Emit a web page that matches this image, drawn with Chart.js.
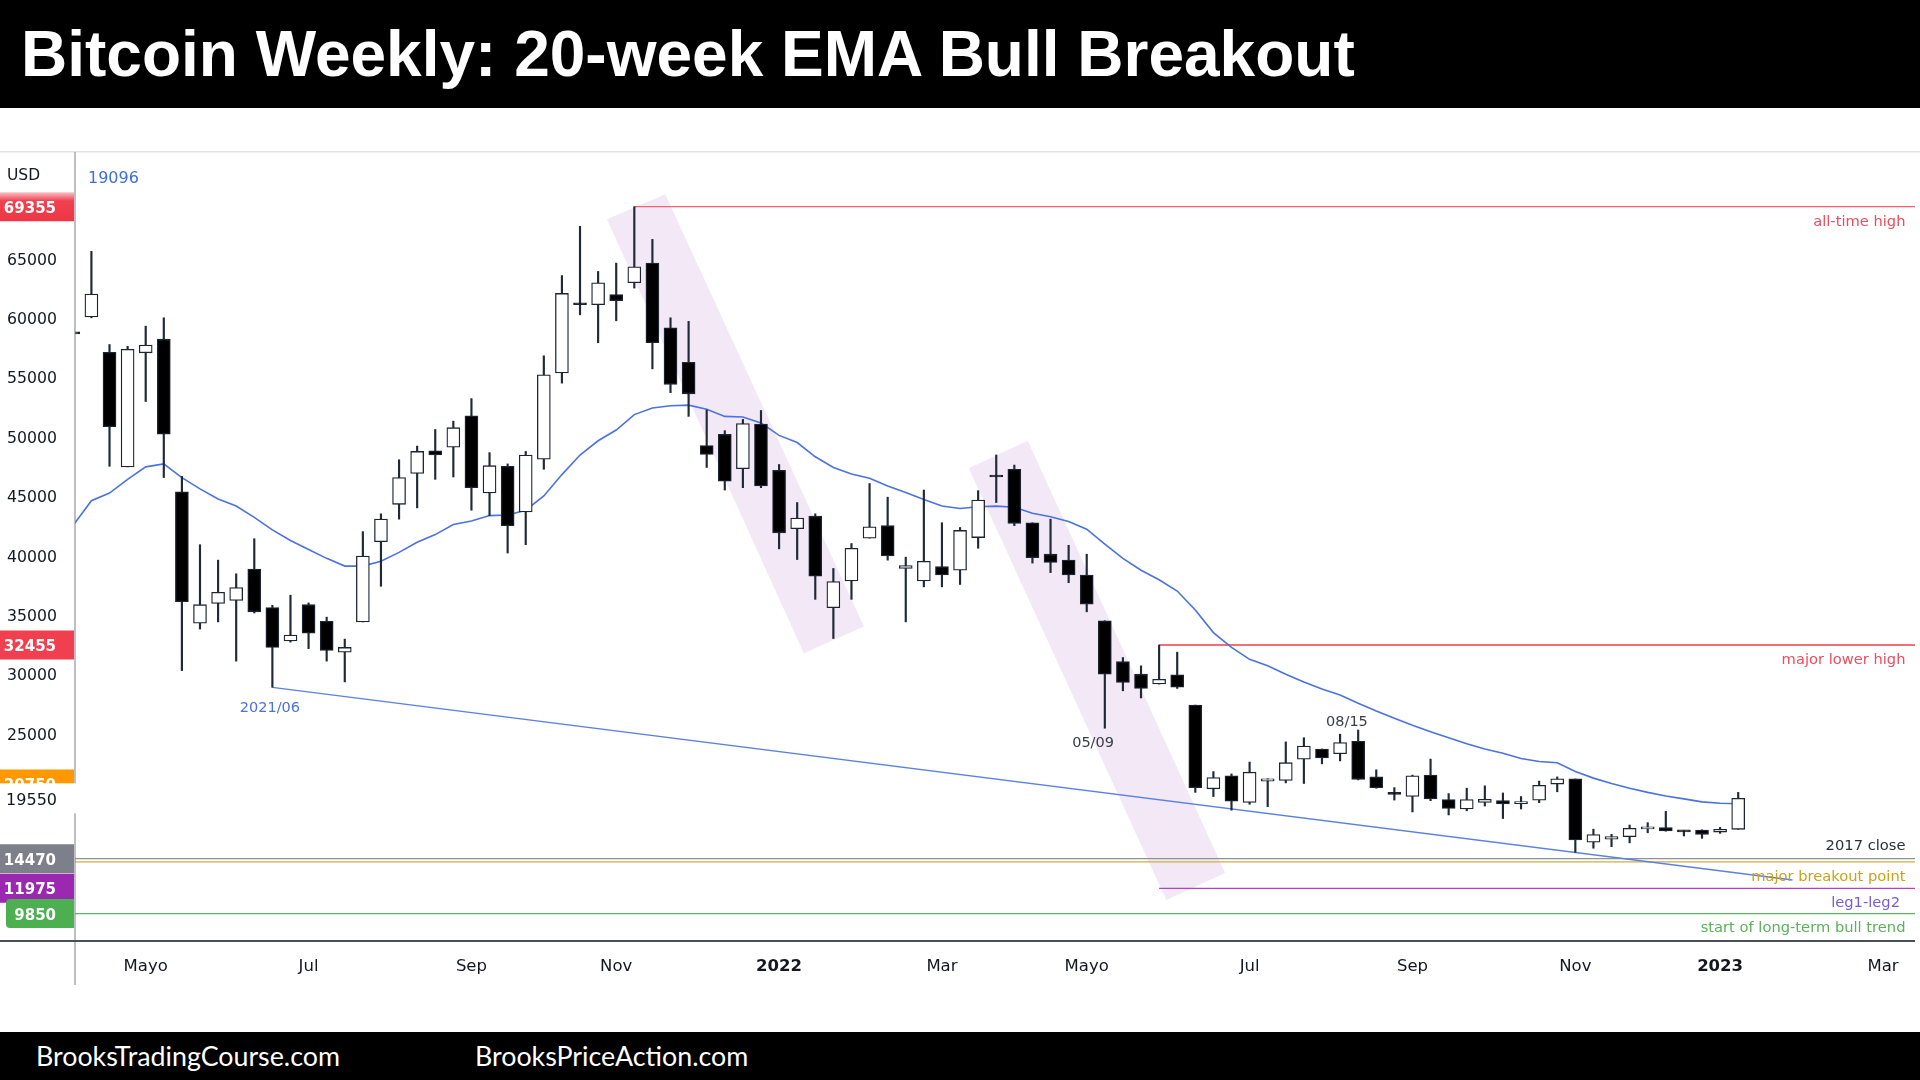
<!DOCTYPE html>
<html><head><meta charset="utf-8">
<script src="https://cdn.jsdelivr.net/npm/chart.js@4.4.1/dist/chart.umd.min.js"></script>
<style>
html,body{margin:0;padding:0;background:#fff;width:1920px;height:1080px;overflow:hidden;}
#wrap{position:relative;width:1920px;height:1080px;}
#c{position:absolute;left:0;top:0;}
#hdr{position:absolute;left:0;top:0;width:1920px;height:108px;background:#000;}
#title{position:absolute;left:21px;top:22px;font:bold 64px/64px "Liberation Sans",Arial,sans-serif;color:#fff;white-space:nowrap;}
#ftr{position:absolute;left:0;top:1032px;width:1920px;height:48px;background:#000;}
.ft{position:absolute;top:11px;font:26.8px/26.8px Lato,"Open Sans",sans-serif;color:#fff;white-space:nowrap;}
</style></head><body>
<div id="wrap">
<canvas id="c" width="1920" height="1080" style="width:1920px;height:1080px"></canvas>
<div id="hdr"><div id="title">Bitcoin Weekly: 20-week EMA Bull Breakout</div></div>
<div id="ftr"><span class="ft" style="left:36px">BrooksTradingCourse.com</span><span class="ft" style="left:475px">BrooksPriceAction.com</span></div>
</div>
<script>
// ---- weekly candles (week start dates) ----
const weeks = [
'2021-04-05','2021-04-12','2021-04-19','2021-04-26','2021-05-03','2021-05-10','2021-05-17','2021-05-24','2021-05-31','2021-06-07',
'2021-06-14','2021-06-21','2021-06-28','2021-07-05','2021-07-12','2021-07-19','2021-07-26','2021-08-02','2021-08-09','2021-08-16',
'2021-08-23','2021-08-30','2021-09-06','2021-09-13','2021-09-20','2021-09-27','2021-10-04','2021-10-11','2021-10-18','2021-10-25',
'2021-11-01','2021-11-08','2021-11-15','2021-11-22','2021-11-29','2021-12-06','2021-12-13','2021-12-20','2021-12-27','2022-01-03',
'2022-01-10','2022-01-17','2022-01-24','2022-01-31','2022-02-07','2022-02-14','2022-02-21','2022-02-28','2022-03-07','2022-03-14',
'2022-03-21','2022-03-28','2022-04-04','2022-04-11','2022-04-18','2022-04-25','2022-05-02','2022-05-09','2022-05-16','2022-05-23',
'2022-05-30','2022-06-06','2022-06-13','2022-06-20','2022-06-27','2022-07-04','2022-07-11','2022-07-18','2022-07-25','2022-08-01',
'2022-08-08','2022-08-15','2022-08-22','2022-08-29','2022-09-05','2022-09-12','2022-09-19','2022-09-26','2022-10-03','2022-10-10',
'2022-10-17','2022-10-24','2022-10-31','2022-11-07','2022-11-14','2022-11-21','2022-11-28','2022-12-05','2022-12-12','2022-12-19',
'2022-12-26','2023-01-02','2023-01-09'];
const openP = [58750,60070,57100,47450,57050,58200,45350,34300,35950,36200,
38850,35600,32800,35850,34450,31850,34400,41150,44300,46900,
48800,49100,51750,45250,47500,43650,48100,55350,61200,61100,
61950,62950,64600,59150,56250,49250,50200,47300,51050,47150,
42250,43300,35600,37850,41450,42500,38900,37850,39050,38750,
41500,46750,47250,42750,40100,39600,38350,34500,31050,30000,
29170,29950,27400,20350,21450,19200,21000,21050,22850,23700,
23300,24350,21350,19950,19700,21500,19450,18650,19200,19350,
19100,19400,20750,21180,15850,16120,16320,16980,17080,16760,
16880,16710,16940];
const highP = [58800,65600,57750,57600,59300,60000,46650,40900,39600,38450,
41400,35800,36650,36000,34800,32950,42000,43500,48050,49200,
50600,51300,53200,48650,47700,48750,56800,63550,67700,63900,
64600,69355,66600,60000,59700,52250,50500,51450,52200,47650,
44450,43500,38900,41000,46050,44900,39850,45500,42750,42350,
45450,48450,47600,42750,43050,40850,40100,34500,31400,30700,
32455,31850,27400,21800,21600,22600,21200,24300,24650,23700,
24950,25300,21950,20450,21500,22850,19950,20400,20600,20000,
19700,21000,21350,21180,16950,16520,17300,17500,18450,16820,
16900,17100,20050];
const lowP = [58600,60000,47500,47450,52950,46550,30300,33800,34400,31100,
35150,28900,32700,32150,31100,29350,34400,37400,43050,44000,
46400,46600,43800,43350,40200,40900,47250,54500,60250,57900,
59750,62500,55700,53700,51700,47400,45500,45700,45700,40550,
39650,36300,33000,36300,41450,39600,34400,37350,37350,37550,
40600,44450,42500,39350,38550,37700,35250,25450,28600,28000,
29170,28800,20050,19700,18550,19050,18850,20850,20800,22450,
22700,21100,20400,19400,18400,19350,18150,18500,18900,17850,
18650,19180,20100,15000,15350,15480,15800,16650,16780,16380,
16180,16600,16940];
const closeP = [58650,62000,50830,57350,57700,50200,36100,35850,36900,37300,
35250,32250,33300,33450,32000,32250,39950,43050,46550,48750,
48450,50750,45700,47550,42500,48450,55200,62050,61100,62950,
61450,64300,57900,54400,53600,48500,46250,51100,45850,41900,
43150,38250,37800,40600,42400,39950,39150,39500,38350,42100,
44650,46600,42700,39800,39400,38350,35900,30000,29300,28800,
29570,28900,20450,21300,19300,21750,21200,22550,23950,22950,
24250,21150,20450,19880,21450,19500,18700,19450,19470,19070,
19150,20650,21200,16050,16500,16320,17020,17050,16800,16720,
16520,16940,19550];
const ema20 = [42550,44600,45250,46400,47450,47700,46550,45600,44750,44150,
43200,42150,41250,40500,39750,39100,39100,39500,40250,41100,
41750,42600,42900,43350,43400,43800,45000,46800,48450,49650,
50550,51850,52400,52600,52650,52300,51700,51650,51150,50100,
49500,48300,47400,46850,46500,45850,45300,44700,44150,43950,
44100,44150,44050,43550,43250,42850,42200,40950,39750,38750,
37950,37000,35400,33500,32250,31250,30700,30000,29350,28750,
28250,27550,26900,26300,25700,25150,24650,24150,23700,23350,
22900,22650,22550,21800,21250,20800,20400,20050,19750,19500,
19250,19130,19096];

// axis ticks
const xTickIdx = [4,13,22,30,39,48,56,65,74,83,91,100];
const xTickLabels = ['Mayo','Jul','Sep','Nov','2022','Mar','Mayo','Jul','Sep','Nov','2023','Mar'];
const yTicks = [25000,30000,35000,40000,45000,50000,55000,60000,65000];

// horizontal levels
const levelValues = [69355,32455,14470,14200,11975,9850];
const levelStart  = [31,60,null,null,60,null];
const levelTexts  = ['all-time high','major lower high','2017 close','major breakout point','leg1-leg2','start of long-term bull trend'];

// trend line (from 2021/06 low)
const trendX = [11,95];
const trendY = [28887,12674];

// shaded channels (corner points)
const chan1X = [29.49,32.71,43.69,40.37];
const chan1Y = [68291,70396,34022,31766];
const chan2X = [49.48,52.74,63.65,60.40];
const chan2Y = [47330,49654,13263,10990];

// price tags on axis
const tagValues = [69355,32455,20750,19550,14470,11975,9850];
const emaLast = 19096;

// bar annotations
const noteTexts = ['2021/06','05/09','08/15'];
const noteX = [10.86,56.35,70.38];
const noteY = [27300,24400,26143];

const X_MIN = 0.093, X_MAX = 101.77, Y_MIN = 7623, Y_MAX = 73957;

const levelColors = ['#f0606e','#ee3e4c','#8f929b','#d1b03c','#b044c4','#5cb85c'];
const levelTextColors = ['#ec4d5e','#ec4d5e','#2a2e39','#c9a21c','#7a5bd3','#5ab25a'];
const tagBg = ['#f0404f','#f0404f','#ff9800','#ffffff','#7d808a','#9c27b0','#4caf50'];

const wickColor = '#1f2a36';
const datasets = [];
function poly(xs, ys){ const px = xs.concat([xs[0]]), py = ys.concat([ys[0]]); return px.map((v,k)=>({x:v,y:py[k]})); }
datasets.push({type:'line', data: poly(chan1X, chan1Y), borderWidth:0, pointRadius:0, fill:'shape',
  backgroundColor:'rgba(226,204,236,0.45)', order:20, clip:0});
datasets.push({type:'line', data: poly(chan2X, chan2Y), borderWidth:0, pointRadius:0, fill:'shape',
  backgroundColor:'rgba(226,204,236,0.45)', order:20, clip:0});
levelValues.forEach((v,k)=>{
  datasets.push({type:'line', data:[{x: levelStart[k]===null?X_MIN:levelStart[k], y:v},{x:X_MAX,y:v}],
    borderColor: levelColors[k], borderWidth:1.3, pointRadius:0, fill:false, order:15, clip:0});
});
datasets.push({type:'line', data: trendX.map((v,k)=>({x:v,y:trendY[k]})), borderColor:'#5a80e4', borderWidth:1.3,
  pointRadius:0, fill:false, order:14, clip:0});
datasets.push({type:'line', data: ema20.map((v,k)=>({x:k,y:v})), borderColor:'#4a72e0', borderWidth:1.6,
  pointRadius:0, fill:false, tension:0, order:10, clip:0});
datasets.push({type:'bar', data: weeks.map((w,k)=>({x:k,y:[lowP[k],highP[k]]})), backgroundColor:wickColor,
  borderWidth:0, barThickness:1.5, grouped:false, order:5, clip:0});
datasets.push({type:'bar', data: weeks.map((w,k)=>({x:k,y:[openP[k],closeP[k]]})),
  backgroundColor: weeks.map((w,k)=> closeP[k]>=openP[k] ? '#ffffff' : '#000000'),
  borderColor:'#1c2430', borderWidth:1.3, borderSkipped:false, barThickness:13, minBarLength:2, grouped:false, order:1, clip:0});

const T = 2.2; // text baseline nudge
const decor = {
  id:'decor',
  afterDraw(chart){
    const {ctx, scales:{x,y}} = chart;
    ctx.save();
    ctx.fillStyle='#e0e3eb'; ctx.fillRect(0,151,1920,1.5);
    ctx.fillStyle='#7d808a'; ctx.fillRect(74.5,152,1,833);
    ctx.fillStyle='#4a4e5a'; ctx.fillRect(0,940,1915,2);
    // right side level labels
    const offs = [13,13,-14.5,13,13,12.5];
    const rx = [1905.5,1905.5,1905.5,1905.5,1900,1905.5];
    ctx.font = '14.7px "DejaVu Sans"'; ctx.textAlign='right'; ctx.textBaseline='middle';
    levelTexts.forEach((t,k)=>{ ctx.fillStyle = levelTextColors[k]; ctx.fillText(t, rx[k], y.getPixelForValue(levelValues[k])+offs[k]+T); });
    // bar notes
    ctx.textAlign='center'; ctx.font='14.5px "DejaVu Sans"';
    noteTexts.forEach((t,k)=>{ ctx.fillStyle = k===0 ? '#4a72e0' : '#3a3d45'; ctx.fillText(t, x.getPixelForValue(noteX[k]), y.getPixelForValue(noteY[k])+T); });
    // legend-like
    ctx.textAlign='left'; ctx.font='15.5px "DejaVu Sans"'; ctx.fillStyle='#131722'; ctx.fillText('USD',7,173.3+T);
    ctx.font='16px "DejaVu Sans"'; ctx.fillStyle='#3d6fe0'; ctx.fillText(String(emaLast),88,176.7+T);
    // price tags
    tagValues.forEach((v,k)=>{
      const py = y.getPixelForValue(v);
      if (v===19550){
        ctx.fillStyle='#ffffff'; ctx.fillRect(0,py-15,76,30);
        ctx.fillStyle='#131722'; ctx.font='16px "DejaVu Sans"'; ctx.textAlign='right'; ctx.fillText(String(v),57,py+T);
        return;
      }
      const x0 = v===9850 ? 6 : 0;
      if (k===0){
        const g = ctx.createLinearGradient(0,py-14.5,0,py+14.5);
        g.addColorStop(0,'#f9c3c8'); g.addColorStop(0.3,'#f0404f'); g.addColorStop(1,'#ee3646');
        ctx.fillStyle = g;
      } else ctx.fillStyle = tagBg[k];
      ctx.beginPath();
      if (ctx.roundRect && v===9850) ctx.roundRect(x0, py-14.5, 74-x0, 29, [4,0,0,4]); else ctx.rect(x0, py-14.5, 74-x0, 29);
      ctx.fill();
      ctx.fillStyle='#ffffff'; ctx.font='bold 15px "DejaVu Sans"'; ctx.textAlign='right'; ctx.fillText(String(v),56,py+T);
    });
    ctx.restore();
  }
};

new Chart(document.getElementById('c'), {
  data:{datasets},
  options:{
    responsive:false, maintainAspectRatio:false, animation:false, devicePixelRatio:1,
    layout:{padding:{left:0,right:5,top:152,bottom:100}},
    plugins:{legend:{display:false}, tooltip:{enabled:false}},
    scales:{
      x:{type:'linear', min:X_MIN, max:X_MAX, offset:false,
        grid:{display:false, drawTicks:false}, border:{display:false},
        afterBuildTicks:(s)=>{ s.ticks = xTickIdx.map(v=>({value:v})); },
        afterFit:(s)=>{ s.height = 40; },
        ticks:{autoSkip:false, maxRotation:0, padding:17, color:'#131722',
          callback:(v)=>{ const i = xTickIdx.indexOf(v); return i<0 ? '' : xTickLabels[i]; },
          font:(c)=>({family:'DejaVu Sans', size:16.5, weight: /^\d{4}$/.test(xTickLabels[c.index]||'') ? 'bold':'normal'})}
      },
      y:{type:'linear', position:'left', min:Y_MIN, max:Y_MAX,
        grid:{display:false, drawTicks:false}, border:{display:false},
        afterBuildTicks:(s)=>{ s.ticks = yTicks.map(v=>({value:v})); },
        afterFit:(s)=>{ s.width = 75; },
        ticks:{padding:18, labelOffset:2.2, color:'#131722', crossAlign:'near', font:{family:'DejaVu Sans', size:15.7},
          callback:(v)=>String(v)}
      }
    }
  },
  plugins:[decor]
});
</script>
</body></html>
